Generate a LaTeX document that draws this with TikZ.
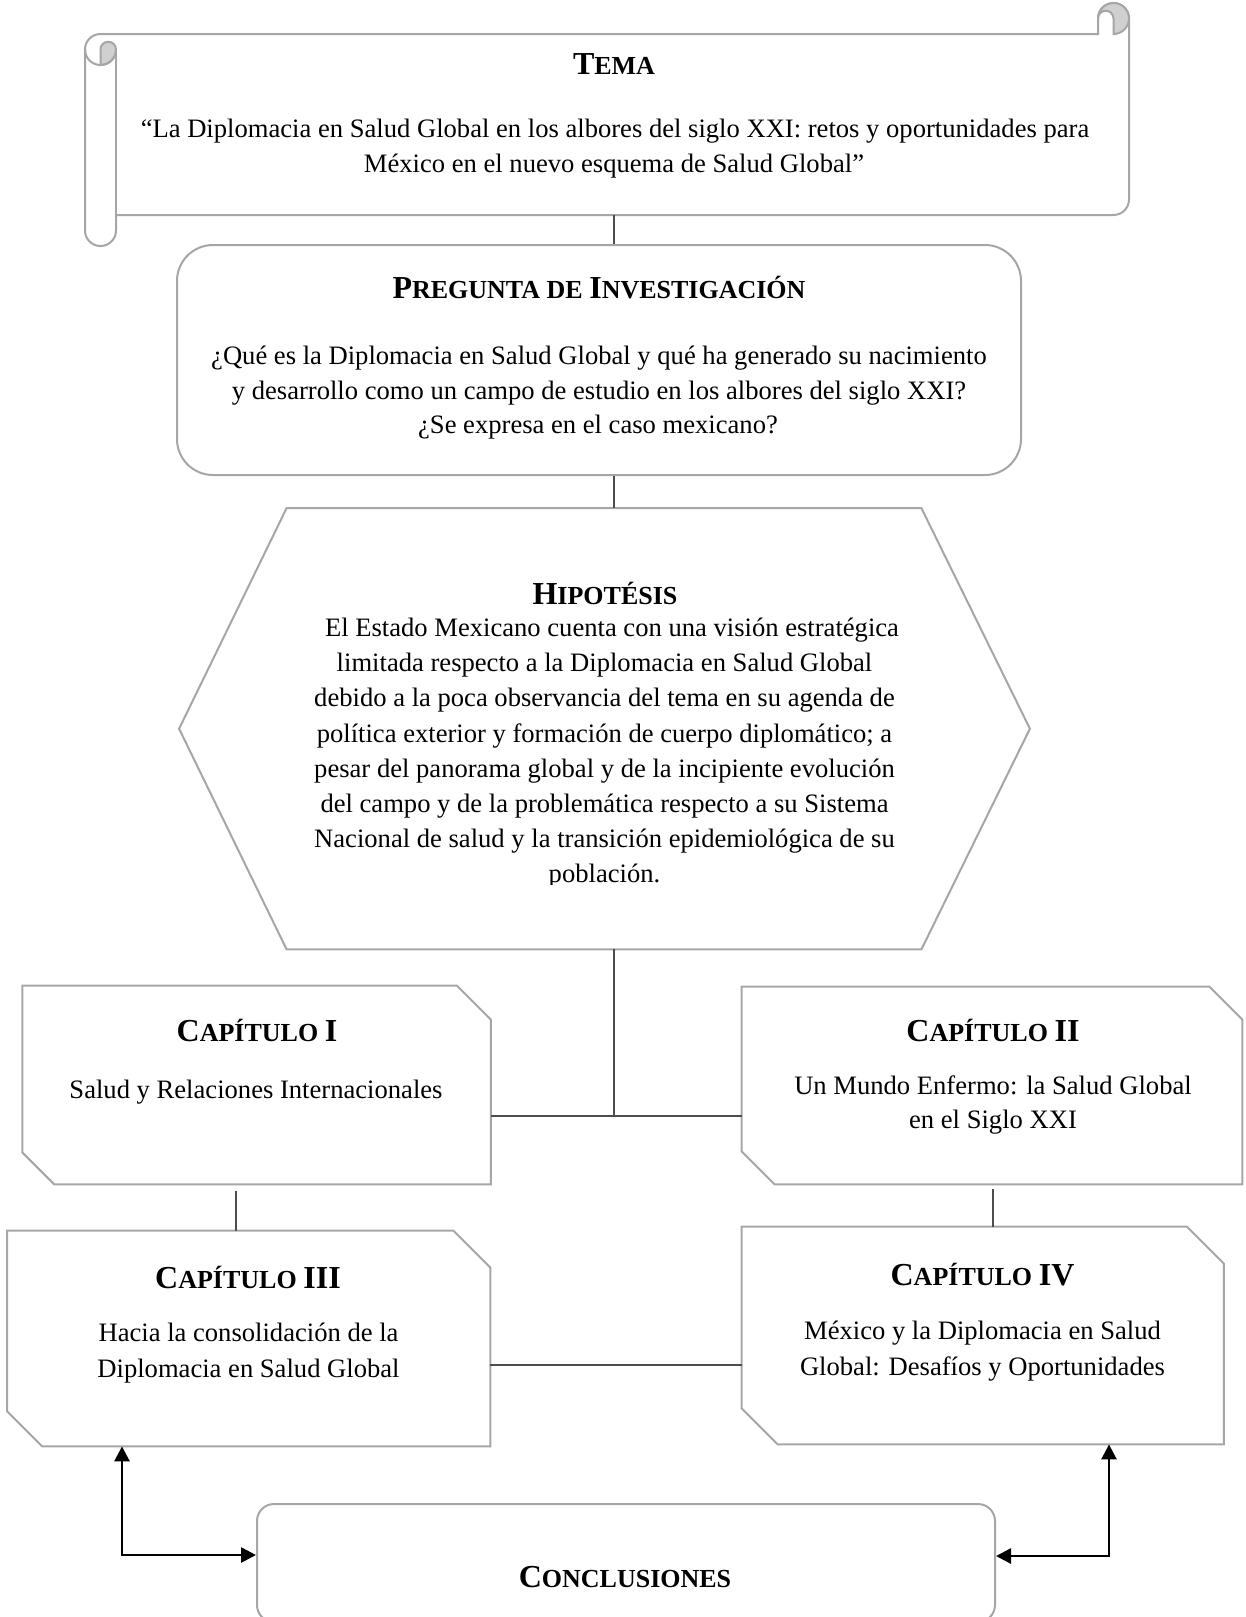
\documentclass[tikz,border=0pt]{standalone}
\usepackage{fontspec}
\setmainfont{Liberation Serif}
\usetikzlibrary{calc,fit,arrows.meta}

\definecolor{edge}{HTML}{A6A6A6}
\definecolor{curl}{HTML}{D0D0D0}
\definecolor{link}{HTML}{4D4D4D}

% bold heading in fake small caps: first letter full size, the rest reduced
\newcommand\hdcaps[2]{{\bfseries\fontsize{16}{18}\selectfont #1\fontsize{13}{18}\selectfont #2}}

\begin{document}
\begin{tikzpicture}[x=0.5pt,y=-0.5pt,
  shapeline/.style={draw=edge, line width=1pt, fill=white},
  curlfill/.style={draw=edge, line width=1pt, fill=curl},
  link/.style={draw=link, line width=1pt},
  bidir/.style={line width=1.35pt, black,
    {Triangle[length=7.5pt,width=7.5pt]}-{Triangle[length=7.5pt,width=7.5pt]}},
  txt/.style={font=\fontsize{13.3}{17.5}\selectfont, inner sep=0, anchor=base},
  frame/.style={inner sep=0, draw=none}]

\path[use as bounding box, clip] (0,0) rectangle (1246,1617);

% ---------- scroll (TEMA) ----------
\coordinate (tnw) at (116,34);
\coordinate (tse) at (1129,215);
\node[frame, fit=(tnw)(tse)] (tema) {};
\draw[shapeline] (85,49.5) arc[start angle=180, end angle=270, radius=15.5]
  -- (1098,34) -- (1098,18.5) arc[start angle=180, end angle=360, radius=15.5]
  -- (1129,199.5) arc[start angle=0, end angle=90, radius=15.5]
  -- (116,215) -- (116,230.5) arc[start angle=0, end angle=180, radius=15.5]
  -- cycle;
% right curl
\draw[curlfill] (1113.5,34) arc[start angle=90, end angle=-180, radius=15.5]
  arc[start angle=180, end angle=360, radius=7.75] -- cycle;
% left curl
\draw[curlfill] (100.5,49.5) arc[start angle=180, end angle=360, radius=7.75]
  arc[start angle=0, end angle=90, radius=15.5] -- cycle;
\draw[draw=edge, line width=1pt] (116,49.5) arc[start angle=0, end angle=180, radius=15.5];
\draw[draw=edge, line width=1pt] (116,49.5) -- (116,215);

\node[txt] (temah) at (614,74.5) {\hdcaps{T}{EMA}};
\node[txt] (temal1) at (615,137) {“La Diplomacia en Salud Global en los albores del siglo XXI: retos y oportunidades para};
\node[txt] (temal2) at (614,172) {México en el nuevo esquema de Salud Global”};

% ---------- research question ----------
\coordinate (pnw) at (177,245);
\coordinate (pse) at (1021,475);
\node[frame, fit=(pnw)(pse), draw=edge, line width=1pt, rounded corners=18pt] (preg) {};
\node[txt] (pregh) at (599,298) {\hdcaps{P}{REGUNTA DE }\hdcaps{I}{NVESTIGACIÓN}};
\node[txt] (pregl1) at (599,364) {¿Qué es la Diplomacia en Salud Global y qué ha generado su nacimiento};
\node[txt] (pregl2) at (599,399) {y desarrollo como un campo de estudio en los albores del siglo XXI?};
\node[txt] (pregl3) at (598,433) {¿Se expresa en el caso mexicano?};

% ---------- hypothesis hexagon ----------
\coordinate (hnw) at (179.5,508.5);
\coordinate (hse) at (1029.5,949);
\node[frame, fit=(hnw)(hse)] (hyp) {};
\draw[shapeline] ($(hyp.north west)+(107.5,0)$) -- ($(hyp.north east)+(-108.5,0)$)
  -- (hyp.east) -- ($(hyp.south east)+(-108.5,0)$) -- ($(hyp.south west)+(107.5,0)$)
  -- (hyp.west) -- cycle;
\node[txt] (hyph) at (605,604.5) {\hdcaps{H}{IPOTÉSIS}};
\begin{scope}
  \clip (180,600) rectangle (1030,884.5);
  \node[txt] (hypl1) at (612,636.5) {El Estado Mexicano cuenta con una visión estratégica};
  \foreach \ln [count=\i from 2] in {
      {limitada respecto a la Diplomacia en Salud Global},
      {debido a la poca observancia del tema en su agenda de},
      {política exterior y formación de cuerpo diplomático; a},
      {pesar del panorama global y de la incipiente evolución},
      {del campo y de la problemática respecto a su Sistema},
      {Nacional de salud y la transición epidemiológica de su},
      {población.}}
    \node[txt] (hypl\i) at (604.5,{636.5+(\i-1)*35.2}) {\ln};
\end{scope}

% ---------- chapters ----------
\coordinate (c1nw) at (22.7,986);   \coordinate (c1se) at (490.5,1184);
\coordinate (c2nw) at (742,987);    \coordinate (c2se) at (1242,1184);
\coordinate (c3nw) at (7.5,1231);   \coordinate (c3se) at (490,1446);
\coordinate (c4nw) at (742,1227);   \coordinate (c4se) at (1223.5,1444);
\node[frame, fit=(c1nw)(c1se)] (c1) {};
\node[frame, fit=(c2nw)(c2se)] (c2) {};
\node[frame, fit=(c3nw)(c3se)] (c3) {};
\node[frame, fit=(c4nw)(c4se)] (c4) {};
\foreach \b/\tr/\bl in {c1/34/32, c2/33/33, c3/37/35, c4/37/36}
  \draw[shapeline] (\b.north west) -- ($(\b.north east)+(-\tr,0)$)
    -- ($(\b.north east)+(0,\tr)$) -- (\b.south east)
    -- ($(\b.south west)+(\bl,0)$) -- ($(\b.south west)+(0,-\bl)$) -- cycle;

\node[txt] (c1h) at (257,1041.7) {\hdcaps{C}{APÍTULO} \hdcaps{I}{}};
\node[txt] (c1l1) at (256,1098) {Salud y Relaciones Internacionales};

\node[txt] (c2h) at (993,1041.7) {\hdcaps{C}{APÍTULO} \hdcaps{II}{}};
\node[txt] (c2l1) at (993,1094) {Un Mundo Enfermo: la Salud Global};
\node[txt] (c2l2) at (993,1128) {en el Siglo XXI};

\node[txt] (c3h) at (248,1288) {\hdcaps{C}{APÍTULO} \hdcaps{III}{}};
\node[txt] (c3l1) at (248.5,1341) {Hacia la consolidación de la};
\node[txt] (c3l2) at (248.5,1377) {Diplomacia en Salud Global};

\node[txt] (c4h) at (982.5,1285) {\hdcaps{C}{APÍTULO} \hdcaps{IV}{}};
\node[txt] (c4l1) at (982.5,1339) {México y la Diplomacia en Salud};
\node[txt] (c4l2) at (982.5,1375) {Global: Desafíos y Oportunidades};

% ---------- conclusions ----------
\coordinate (knw) at (257,1504);
\coordinate (kse) at (995,1622);
\node[frame, fit=(knw)(kse), draw=edge, line width=1pt, rounded corners=8.5pt] (concl) {};
\node[txt] (conclh) at (625,1587) {\hdcaps{C}{ONCLUSIONES}};

% ---------- connectors ----------
\coordinate (spine) at (614,0);
\coordinate (junc) at (614,1116);
\coordinate (leftx) at (236,0);
\coordinate (rightx) at (993,0);
\coordinate (row) at (0,1364.5);
\draw[link] (tema.south -| spine) -- (preg.north -| spine);
\draw[link] (preg.south -| spine) -- (hyp.north -| spine);
\draw[link] (hyp.south -| spine) -- (junc);
\draw[link] (c1.east |- junc) -- (c2.west |- junc);
\draw[link] ($(c1.south -| leftx)+(0,7)$) -- (c3.north -| leftx);
\draw[link] ($(c2.south -| rightx)+(0,5)$) -- (c4.north -| rightx);
\draw[link] (c3.east |- row) -- (c4.west |- row);

\coordinate (la) at (122,1555);
\coordinate (ra) at (1109,1556);
\draw[bidir] (c3.south -| la) |- (concl.west |- la);
\draw[bidir] (c4.south -| ra) |- (concl.east |- ra);
\end{tikzpicture}
\end{document}
